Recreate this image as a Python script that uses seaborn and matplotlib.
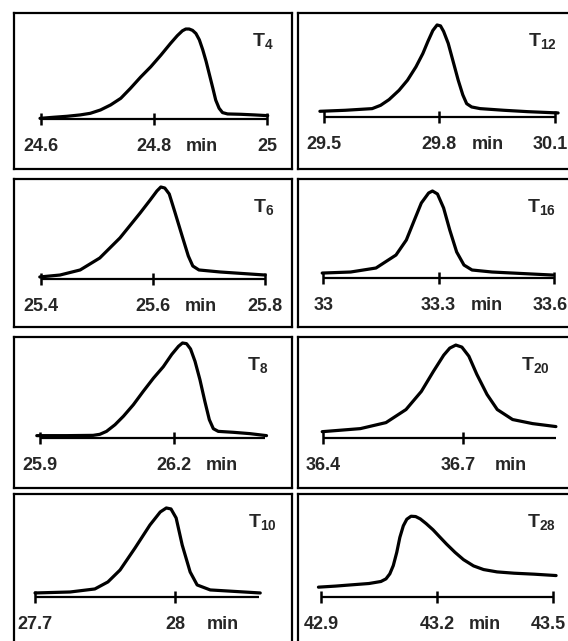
import matplotlib
matplotlib.use("Agg")
import matplotlib.pyplot as plt
import numpy as np
import pandas as pd
import seaborn as sns

# ---------------- data (time in min, relative signal %) ----------------
t4_time = [24.598, 24.622, 24.646, 24.669, 24.687, 24.705, 24.723, 24.741, 24.758, 24.776,
           24.794, 24.812, 24.829, 24.841, 24.850, 24.856, 24.862, 24.868, 24.874, 24.880,
           24.886, 24.892, 24.898, 24.904, 24.909, 24.915, 24.921, 24.930, 24.954, 24.978,
           25.001]
t4_signal = [0.7, 1.9, 3.0, 4.5, 6.3, 10, 15.6, 23, 34, 46.5,
             58, 71, 84, 92.6, 98, 100, 100, 98.5, 95, 88,
             77, 64, 49, 34, 21, 11.9, 7.1, 5.6, 5.2, 4.5,
             3.7]

t6_time = [25.398, 25.434, 25.470, 25.505, 25.541, 25.577, 25.595, 25.607, 25.614, 25.621,
           25.629, 25.639, 25.652, 25.663, 25.671, 25.682, 25.720, 25.800]
t6_signal = [2.2, 4.3, 9.8, 22.8, 44.6, 71.7, 85.9, 95.7, 100, 98.9,
             92.4, 72.8, 46.7, 25, 14.1, 9.8, 7.6, 4.3]

t8_time = [25.893, 25.960, 26.019, 26.034, 26.049, 26.068, 26.087, 26.109, 26.131, 26.154,
           26.176, 26.195, 26.210, 26.219, 26.228, 26.237, 26.247, 26.258, 26.269, 26.279,
           26.288, 26.299, 26.333, 26.370, 26.407]
t8_signal = [2.5, 2.5, 2.8, 3.9, 7, 14, 23, 35, 49, 63,
             75, 88, 96.5, 100, 99.3, 93.7, 80.7, 61.4, 38.6, 19.3,
             9.8, 7, 6, 4.6, 2.5]

t10_time = [27.700, 27.775, 27.828, 27.856, 27.882, 27.914, 27.946, 27.968, 27.981, 27.991,
            28.002, 28.015, 28.032, 28.047, 28.075, 28.182]
t10_signal = [4.5, 5.6, 9, 16.9, 30.3, 55, 80.9, 95.5, 100, 98.9,
              88.8, 58.4, 28.1, 13.5, 7.9, 4.5]

t12_time = [29.489, 29.555, 29.625, 29.647, 29.669, 29.695, 29.717, 29.739, 29.757, 29.770,
            29.783, 29.794, 29.803, 29.811, 29.823, 29.836, 29.849, 29.861, 29.871, 29.884,
            29.906, 29.968, 30.030, 30.109]
t12_signal = [6.2, 7.3, 9.1, 12.7, 18.9, 29, 40, 54.5, 69, 82,
              94, 100, 99, 93, 80, 60, 40, 24, 14.5, 10.9,
              9.1, 7.3, 5.8, 4.4]

t16_time = [32.997, 33.071, 33.137, 33.189, 33.216, 33.237, 33.255, 33.274, 33.284, 33.297,
            33.313, 33.329, 33.347, 33.366, 33.387, 33.439, 33.597]
t16_signal = [5.7, 6.9, 11.5, 26.4, 43.7, 66.7, 86.2, 97.7, 100, 96.6,
              80.5, 55.2, 29.9, 14.9, 9.2, 6.9, 3.4]

t20_time = [36.398, 36.480, 36.535, 36.578, 36.611, 36.637, 36.659, 36.672, 36.685, 36.698,
            36.713, 36.730, 36.752, 36.774, 36.807, 36.850, 36.900]
t20_signal = [6.5, 9.8, 16.3, 30.4, 50, 71.7, 89.1, 96.7, 100, 97.8,
              88, 68.5, 46.7, 30.4, 19.6, 15.2, 12]

t28_time = [42.893, 42.937, 42.980, 43.024, 43.055, 43.068, 43.078, 43.087, 43.096, 43.104,
            43.113, 43.122, 43.133, 43.145, 43.157, 43.172, 43.190, 43.207, 43.225, 43.247,
            43.269, 43.295, 43.321, 43.356, 43.400, 43.452, 43.509]
t28_signal = [12.2, 13.5, 15.1, 16.7, 19.2, 22.4, 28.6, 38.8, 55.1, 73.5,
              87.8, 95.9, 99.6, 99.2, 96.3, 90.6, 82.9, 74.3, 65.3, 55.1,
              46.1, 38.4, 33.9, 31, 29.4, 28.2, 26.5]

# tick values and their labels
t4_ticks, t4_labels = [24.6, 24.8, 25.0], ["24.6", "24.8", "25"]
t6_ticks, t6_labels = [25.4, 25.6, 25.8], ["25.4", "25.6", "25.8"]
t8_ticks, t8_labels = [25.9, 26.2], ["25.9", "26.2"]
t10_ticks, t10_labels = [27.7, 28.0], ["27.7", "28"]
t12_ticks, t12_labels = [29.5, 29.8, 30.1], ["29.5", "29.8", "30.1"]
t16_ticks, t16_labels = [33.0, 33.3, 33.6], ["33", "33.3", "33.6"]
t20_ticks, t20_labels = [36.4, 36.7], ["36.4", "36.7"]
t28_ticks, t28_labels = [42.9, 43.2, 43.5], ["42.9", "43.2", "43.5"]

panel_names = ["4", "6", "8", "10", "12", "16", "20", "28"]

# ---------------- style ----------------
sns.set_theme(style="white")
plt.rcParams["font.family"] = ["Liberation Sans", "DejaVu Sans"]
plt.rcParams["mathtext.fontset"] = "custom"
plt.rcParams["mathtext.rm"] = "Liberation Sans"
plt.rcParams["mathtext.bf"] = "Liberation Sans:bold"

W, H = 568, 641
fig = plt.figure(figsize=(W / 100, H / 100), dpi=100)
fig.patch.set_facecolor("white")

cols = [(14, 292), (298, 575)]
rows = [(13, 169), (179, 327), (337, 488), (494, 655)]

# layout per panel: (col, row, xlim, ylim, axis_end, title_px)
layout = {
    "4":  (0, 0, (24.552, 25.044), (-55.6, 117.8), None, 252),
    "6":  (0, 1, (25.352, 25.848), (-52.2, 108.7), None, 253),
    "8":  (0, 2, (25.842, 26.464), (-52.6, 106.3), 26.404, 247),
    "10": (0, 3, (27.655, 28.250), (-65.2, 115.7), 28.180, 248),
    "12": (1, 0, (29.432, 30.153), (-56.5, 113.0), None, 528),
    "16": (1, 1, (32.934, 33.655), (-56.3, 113.8), None, 527),
    "20": (1, 2, (36.346, 36.941), (-54.3, 108.7), 36.900, 521),
    "28": (1, 3, (42.840, 43.558), (-71.4, 127.0), None, 527),
}

data = {
    "4": (t4_time, t4_signal, t4_ticks, t4_labels),
    "6": (t6_time, t6_signal, t6_ticks, t6_labels),
    "8": (t8_time, t8_signal, t8_ticks, t8_labels),
    "10": (t10_time, t10_signal, t10_ticks, t10_labels),
    "12": (t12_time, t12_signal, t12_ticks, t12_labels),
    "16": (t16_time, t16_signal, t16_ticks, t16_labels),
    "20": (t20_time, t20_signal, t20_ticks, t20_labels),
    "28": (t28_time, t28_signal, t28_ticks, t28_labels),
}

for name in panel_names:
    c, r, xlim, ylim, axis_end, title_px = layout[name]
    L, R = cols[c]
    T, B = rows[r]
    ax = fig.add_axes([L / W, 1 - B / H, (R - L) / W, (B - T) / H])
    time, signal, ticks, labels = data[name]
    df = pd.DataFrame({"time": time, "signal": signal})
    sns.lineplot(data=df, x="time", y="signal", ax=ax, color="black",
                 linewidth=2.3, estimator=None, sort=False)
    # axis line with ticks
    end = axis_end if axis_end is not None else ticks[-1]
    ax.plot([ticks[0], end], [0, 0], color="black", linewidth=1.6,
            solid_capstyle="butt")
    ax.plot(ticks, [0] * len(ticks), linestyle="none", marker="|",
            markersize=9, markeredgewidth=1.8, color="black")
    for i, (tv, tl) in enumerate(zip(ticks, labels)):
        dx = -3 if (c == 1 and i == len(ticks) - 1) else 0
        ax.annotate(tl, xy=(tv, 0), xycoords="data", xytext=(dx, -20),
                    textcoords="offset points", ha="center", va="center",
                    fontsize=13, fontweight="bold", annotation_clip=False)
    ax.annotate("min", xy=(ticks[1], 0), xycoords="data", xytext=(23, -20),
                textcoords="offset points", ha="left", va="center",
                fontsize=13, fontweight="bold", annotation_clip=False)
    ax.text((title_px - L) / (R - L), 1 - 29 / (B - T),
            r"$\mathbf{T}_{\mathbf{" + name + "}}$", transform=ax.transAxes,
            ha="left", va="center", fontsize=14)
    ax.set_xlim(*xlim)
    ax.set_ylim(*ylim)
    ax.set_xticks([])
    ax.set_yticks([])
    ax.set_xlabel("")
    ax.set_ylabel("")
    for s in ax.spines.values():
        s.set_visible(True)
        s.set_color("black")
        s.set_linewidth(1.6)

fig.savefig("out.png", dpi=100, facecolor="white")
